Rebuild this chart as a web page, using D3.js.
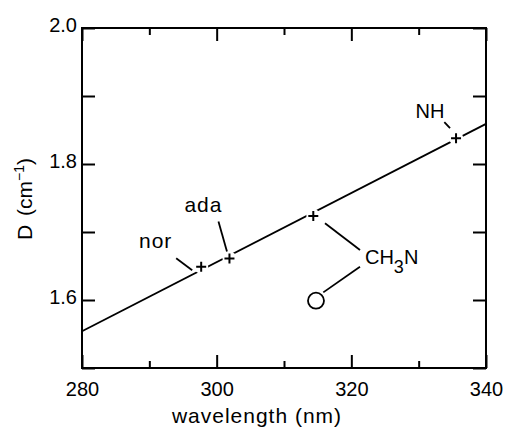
<!DOCTYPE html>
<html>
<head>
<meta charset="utf-8">
<script src="https://cdn.jsdelivr.net/npm/d3@7"></script>
<style>
    body { margin: 0; background: white; }
    svg text { font-family: "Liberation Sans", Arial, sans-serif; fill: black; }
</style>
</head>
<body>
<svg id="chart" width="507" height="434"></svg>
<script>
// measured points (+ markers)
var point_names = ["nor", "ada", "CH3N", "NH"];
var point_wavelengths = [297.7, 301.9, 314.35, 335.55];
var point_d = [1.649, 1.661, 1.7235, 1.838];

// open circle (CH3N, second value)
var open_wavelength = [314.75];
var open_d = [1.599];

// fitted straight line
var fit_wavelengths = [280, 340];
var fit_d = [1.554, 1.859];

// axes
var x_ticks = [280, 290, 300, 310, 320, 330, 340];
var x_tick_labels = [280, 300, 320, 340];
var y_ticks = [1.5, 1.6, 1.7, 1.8, 1.9, 2.0];
var y_tick_labels = [1.6, 1.8, 2.0];

const WIDTH = 507;
const HEIGHT = 434;
const margin = { top: 28, right: 21, bottom: 66, left: 82 };

var svg = d3.select("svg#chart");

var x = d3.scaleLinear().domain([280, 340]).range([margin.left, WIDTH - margin.right]);
var y = d3.scaleLinear().domain([1.5, 2.0]).range([HEIGHT - margin.bottom, margin.top]);

function style_axis(g) {
    g.select(".domain").remove();
    g.selectAll(".tick line").attr("stroke", "black").attr("stroke-width", 2);
    g.selectAll(".tick text")
        .style("font-size", "20px")
        .attr("fill", "black");
}

function is_label(list, v) {
    return list.some(elem => Math.abs(elem - v) < 1e-6);
}

// bottom and top x ticks (pointing inward)
svg.append("g")
    .attr("transform", "translate(0," + y.range()[0] + ")")
    .call(d3.axisBottom(x).tickValues(x_ticks).tickSizeInner(-13).tickSizeOuter(0).tickPadding(14)
        .tickFormat(d => is_label(x_tick_labels, d) ? d : ""))
    .call(style_axis)
    .call(g => g.selectAll(".tick line").attr("y2", d => is_label(x_tick_labels, d) ? -13 : -7));

svg.append("g")
    .attr("transform", "translate(0," + y.range()[1] + ")")
    .call(d3.axisTop(x).tickValues(x_ticks).tickSizeInner(-13).tickSizeOuter(0).tickFormat(""))
    .call(style_axis)
    .call(g => g.selectAll(".tick line").attr("y2", d => is_label(x_tick_labels, d) ? 13 : 7));

// left and right y ticks
svg.append("g")
    .attr("transform", "translate(" + x.range()[0] + ",0)")
    .call(d3.axisLeft(y).tickValues(y_ticks).tickSizeInner(-13).tickSizeOuter(0).tickPadding(5)
        .tickFormat(d => is_label(y_tick_labels, d) ? d3.format(".1f")(d) : ""))
    .call(style_axis)
    .call(g => g.selectAll(".tick text").attr("dy", "0.15em"));

svg.append("g")
    .attr("transform", "translate(" + x.range()[1] + ",0)")
    .call(d3.axisRight(y).tickValues(y_ticks).tickSizeInner(-13).tickSizeOuter(0).tickFormat(""))
    .call(style_axis);

// frame
svg.append("rect")
    .attr("x", x.range()[0])
    .attr("y", y.range()[1])
    .attr("width", x.range()[1] - x.range()[0])
    .attr("height", y.range()[0] - y.range()[1])
    .attr("fill", "none")
    .attr("stroke", "black")
    .attr("stroke-width", 2);

// fit line
var fit = fit_wavelengths.map((w, i) => [w, fit_d[i]]);
svg.append("path")
    .datum(fit)
    .attr("d", d3.line().x(d => x(d[0])).y(d => y(d[1])))
    .attr("fill", "none")
    .attr("stroke", "black")
    .attr("stroke-width", 1.8);

// points
var points = point_names.map((name, i) => ({ name: name, w: point_wavelengths[i], d: point_d[i] }));

var marks = svg.append("g").selectAll("g")
    .data(points)
    .join("g")
    .attr("transform", d => "translate(" + x(d.w) + "," + y(d.d) + ")");

// small white gap round each marker, as in the print
marks.append("circle")
    .attr("r", 7)
    .attr("fill", "white");

marks.append("path")
    .attr("d", "M-5,0H5M0,-5V5")
    .attr("stroke", "black")
    .attr("stroke-width", 2);

svg.append("g").selectAll("circle")
    .data(open_wavelength.map((w, i) => [w, open_d[i]]))
    .join("circle")
    .attr("cx", d => x(d[0]))
    .attr("cy", d => y(d[1]))
    .attr("r", 8)
    .attr("fill", "white")
    .attr("stroke", "black")
    .attr("stroke-width", 1.8);

// labels and leader lines (offsets from the marker)
var label_layout = {
    "nor":  { tx: -45.5, ty: -18.7, anchor: "middle", leader: [-25, -8.5, -9, 3.5] },
    "ada":  { tx: -26, ty: -46.7, anchor: "middle", leader: [-11, -37, -2.5, -7] },
    "CH3N": { tx: 51.7, ty: 48, anchor: "start", leader: [11.7, 7.3, 46.7, 34] },
    "NH":   { tx: -26, ty: -20, anchor: "middle", leader: [-11.7, -16, -6, -10] }
};

marks.append("line")
    .attr("x1", d => label_layout[d.name].leader[0])
    .attr("y1", d => label_layout[d.name].leader[1])
    .attr("x2", d => label_layout[d.name].leader[2])
    .attr("y2", d => label_layout[d.name].leader[3])
    .attr("stroke", "black")
    .attr("stroke-width", 1.8);

marks.append("text")
    .attr("x", d => label_layout[d.name].tx)
    .attr("y", d => label_layout[d.name].ty)
    .attr("text-anchor", d => label_layout[d.name].anchor)
    .style("font-size", d => d.name == "nor" || d.name == "ada" ? "21px" : "20px")
    .style("letter-spacing", d => d.name == "nor" || d.name == "ada" ? "1px" : "0px")
    .each(function(d) {
        var t = d3.select(this);
        if (d.name == "CH3N") {
            t.append("tspan").text("CH");
            t.append("tspan").attr("dy", 9).style("font-size", "18px").text("3");
            t.append("tspan").attr("dy", -9).text("N");
        } else {
            t.text(d.name);
        }
    });

// leader from the open circle to CH3N
svg.append("line")
    .attr("x1", x(open_wavelength[0]) + 7.3)
    .attr("y1", y(open_d[0]) - 8.3)
    .attr("x2", x(open_wavelength[0]) + 44)
    .attr("y2", y(open_d[0]) - 34)
    .attr("stroke", "black")
    .attr("stroke-width", 1.8);

// axis titles
svg.append("text")
    .attr("x", 257)
    .attr("y", 423)
    .attr("text-anchor", "middle")
    .style("font-size", "21px")
    .style("letter-spacing", "1px")
    .text("wavelength (nm)");

var ylab = svg.append("text")
    .attr("transform", "translate(32,199) rotate(-90)")
    .attr("text-anchor", "middle")
    .style("font-size", "21px");
ylab.append("tspan").text("D");
ylab.append("tspan").attr("dx", 9).text("(cm");
ylab.append("tspan").attr("dy", -8).style("font-size", "14px").text("\u22121");
ylab.append("tspan").attr("dy", 8).text(")");
</script>
</body>
</html>
